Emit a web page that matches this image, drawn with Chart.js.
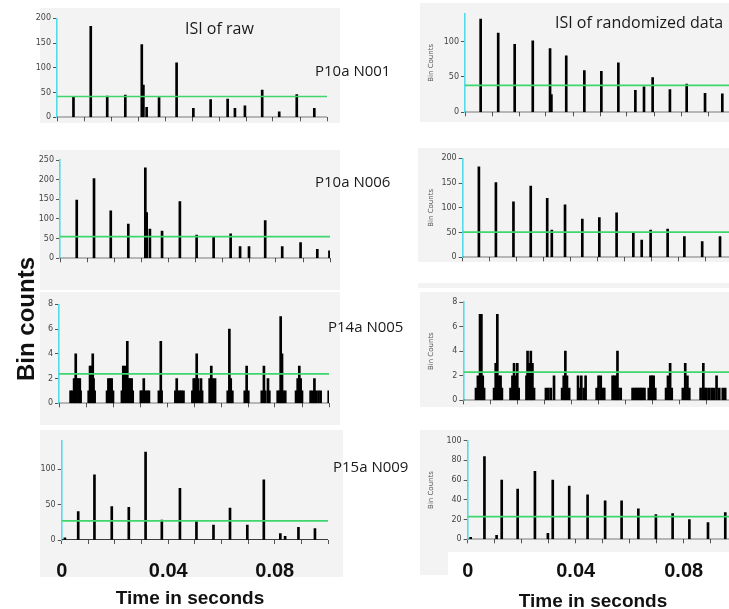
<!DOCTYPE html>
<html><head><meta charset="utf-8">
<script src="https://cdn.jsdelivr.net/npm/chart.js@4/dist/chart.umd.min.js"></script>
<style>
html,body{margin:0;padding:0;background:#fff;}
#root{position:relative;width:729px;height:609px;overflow:hidden;}
.box{position:absolute;background:#f3f3f3;}
.cv{position:absolute;}
.lbl{position:absolute;font-family:"Open Sans",sans-serif;color:#1a1a1a;white-space:nowrap;line-height:1;font-size:15px;}
.big{position:absolute;font-family:"Liberation Sans",Arial,sans-serif;font-weight:bold;color:#111;white-space:nowrap;line-height:1;transform:translate(-50%,-50%);}
</style></head><body><div id="root"></div>
<script>
// ---------- data (spike times in seconds, bin counts) ----------
const p1Times  = [0.0061,0.0125,0.0186,0.0253,0.0314,0.0320,0.0332,0.0378,0.0443,0.0505,0.0569,0.0632,0.0659,0.0696,0.0760,0.0823,0.0888,0.0953];
const p1Counts = [42,184,43,45,147,65,20,40,110,18,36,37,18,23,55,11,46,18];
const p1Mean = 42;

const p2Times  = [0.0058,0.0123,0.0184,0.0251,0.0315,0.0320,0.0375,0.0442,0.0505,0.0568,0.0631,0.0663,0.0695,0.0759,0.0821,0.0889,0.0953];
const p2Counts = [132,112,96,101,90,25,80,59,58,70,31,36,49,32,40,27,26];
const p2Mean = 38;

const p3Times  = [0.0062,0.0126,0.0188,0.0253,0.0316,0.0321,0.0333,0.0378,0.0444,0.0506,0.0569,0.0632,0.0667,0.0700,0.0760,0.0823,0.0891,0.0953,0.0998];
const p3Counts = [148,203,121,87,230,116,74,69,144,59,55,62,30,30,96,30,40,23,19];
const p3Mean = 55;

const p4Times  = [0.0060,0.0123,0.0188,0.0252,0.0313,0.0330,0.0379,0.0443,0.0506,0.0570,0.0632,0.0663,0.0696,0.0759,0.0821,0.0887,0.0953];
const p4Counts = [183,151,112,144,119,55,106,77,80,90,50,35,55,57,42,32,42];
const p4Mean = 51;

const p5Times  = [0.0043,0.0049,0.0056,0.0062,0.0065,0.0072,0.0077,0.0080,
  0.0110,0.0115,0.0120,0.0125,0.0128,0.0132,
  0.0178,0.0183,0.0189,0.0195,0.0200,
  0.0233,0.0238,0.0244,0.0253,0.0258,0.0263,0.0269,0.0273,
  0.0303,0.0307,0.0314,0.0320,0.0327,0.0333,
  0.0370,0.0377,0.0380,
  0.0431,0.0436,0.0442,0.0448,0.0454,0.0461,
  0.0494,0.0499,0.0505,0.0510,0.0515,0.0521,0.0526,0.0530,
  0.0558,0.0564,0.0570,0.0578,
  0.0625,0.0631,0.0636,0.0642,
  0.0688,0.0695,0.0701,
  0.0751,0.0759,0.0764,0.0774,0.0779,
  0.0810,0.0816,0.0821,0.0826,0.0831,0.0838,
  0.0878,0.0884,0.0890,0.0895,0.0900,
  0.0932,0.0940,0.0946,0.0952,0.0961,0.0969,0.0999];
const p5Counts = [1,1,2,4,2,2,2,1,
  1,3,3,4,2,1,
  1,2,2,2,1,
  1,3,3,5,2,2,2,1,
  1,1,2,1,1,1,
  1,5,1,
  1,2,1,1,1,1,
  1,2,2,4,2,1,2,1,
  2,3,2,2,
  1,6,2,1,
  1,3,1,
  1,3,1,2,1,
  1,1,7,4,1,1,
  1,2,3,2,1,
  1,1,2,1,1,1,1];
const p5Mean = 2.37;

const p6Times  = [0.0047,0.0054,0.0062,0.0067,0.0072,0.0077,
  0.0114,0.0120,0.0126,0.0132,0.0138,0.0143,
  0.0175,0.0182,0.0188,0.0194,0.0200,0.0205,
  0.0234,0.0238,0.0245,0.0250,0.0256,0.0262,
  0.0306,0.0315,0.0324,0.0336,
  0.0366,0.0372,0.0378,0.0384,0.0392,
  0.0425,0.0431,0.0437,0.0446,0.0453,
  0.0494,0.0501,0.0509,0.0516,0.0522,
  0.0553,0.0559,0.0566,0.0571,0.0575,0.0583,
  0.0627,0.0634,0.0640,0.0646,0.0652,0.0658,0.0664,0.0671,
  0.0687,0.0693,0.0699,0.0705,0.0711,
  0.0751,0.0758,0.0766,0.0772,
  0.0813,0.0822,0.0830,0.0837,
  0.0879,0.0889,0.0895,0.0901,
  0.0911,0.0920,0.0929,0.0938,0.0948,0.0961,0.0970];
const p6Counts = [1,2,7,7,2,1,
  1,3,7,2,2,1,
  1,2,3,2,3,1,
  2,4,3,4,3,1,
  1,1,1,2,
  1,2,4,2,1,
  2,1,2,1,2,
  1,2,2,1,1,
  2,2,2,4,1,1,
  1,1,1,1,1,1,1,1,
  1,2,2,2,1,
  1,2,3,1,
  1,3,2,1,
  1,3,1,1,
  1,1,1,2,1,1,1];
const p6Mean = 2.3;

const p7Times  = [0.0012,0.0062,0.0123,0.0188,0.0252,0.0315,0.0376,0.0444,0.0506,0.0570,0.0632,0.0697,0.0759,0.0821,0.0839,0.0889,0.0951];
const p7Counts = [3,40,92,47,46,124,28,73,26,21,45,21,85,9,5,18,16];
const p7Mean = 27;

const p8Times  = [0.0011,0.0062,0.0107,0.0126,0.0185,0.0249,0.0297,0.0315,0.0376,0.0444,0.0509,0.0570,0.0632,0.0697,0.0759,0.0821,0.0890,0.0954];
const p8Counts = [2,84,4,60,51,69,6,60,54,45,39,39,31,25,26,20,17,27];
const p8Mean = 23;

const xTickLabels = ['0','0.04','0.08'];
const yTitle = 'Bin Counts';

// ---------- layout ----------
const root = document.getElementById('root');
const PX_PER_SEC = 2700;

const boxes = [
  [40,8,300,115],[420,3,309,119],
  [40,150,300,140],[418,148,311,114],[418,283,311,5],
  [40,292,300,133],[420,292,309,115],
  [40,430,303,147],[420,430,309,122],[420,552,28,23]
];
boxes.forEach(b=>{const d=document.createElement('div');d.className='box';
  d.style.left=b[0]+'px';d.style.top=b[1]+'px';d.style.width=b[2]+'px';d.style.height=b[3]+'px';root.appendChild(d);});

function addText(cls, txt, x, y, size, extra){
  const d=document.createElement('div');d.className=cls;d.textContent=txt;
  d.style.left=x+'px';d.style.top=y+'px';if(size)d.style.fontSize=size+'px';
  if(extra)Object.assign(d.style,extra);root.appendChild(d);return d;
}

const panels = [
  {t:p1Times,c:p1Counts,m:p1Mean,ymax:200,step:50,cv:[28,6,312,120],pl:[57,18.3,327,117.3],title:false,bottom:false},
  {t:p2Times,c:p2Counts,m:p2Mean,ymax:140,step:50,cv:[420,2,309,120],pl:[465,13.3,729,112.3],title:true,bottom:false},
  {t:p3Times,c:p3Counts,m:p3Mean,ymax:250,step:50,cv:[28,150,312,118],pl:[60,160,330,258.3],title:false,bottom:false},
  {t:p4Times,c:p4Counts,m:p4Mean,ymax:200,step:50,cv:[420,148,309,118],pl:[462.7,158.3,729,257.3],title:true,bottom:false},
  {t:p5Times,c:p5Counts,m:p5Mean,ymax:8,step:2,cv:[28,292,312,120],pl:[59,304.3,329,403.3],title:false,bottom:false},
  {t:p6Times,c:p6Counts,m:p6Mean,ymax:8,step:2,cv:[420,290,309,118],pl:[463.3,302,729,400.3],title:true,bottom:false},
  {t:p7Times,c:p7Counts,m:p7Mean,ymax:140,step:50,cv:[28,430,315,160],pl:[61.7,440.7,331.7,540],title:false,bottom:true,lblY:571},
  {t:p8Times,c:p8Counts,m:p8Mean,ymax:100,step:20,cv:[420,430,309,160],pl:[467.7,440.7,729,539.3],title:true,bottom:true,lblY:571.7}
];

panels.forEach(p=>{
  const [cl,ct,cw,ch]=p.cv; const [pL,pT,pR,pB]=p.pl;
  const cvs=document.createElement('canvas');cvs.className='cv';
  cvs.width=cw;cvs.height=ch;cvs.style.left=cl+'px';cvs.style.top=ct+'px';
  cvs.style.width=cw+'px';cvs.style.height=ch+'px';root.appendChild(cvs);
  const xMax=(pR-pL)/PX_PER_SEC;
  const yW=pL-cl, padTop=pT-ct, padRight=(cl+cw)-pR, xH=(ct+ch)-pB;
  const spikes=p.t.map((t,i)=>({x:t,y:p.c[i]}));
  new Chart(cvs,{
    type:'bar',
    data:{datasets:[
      {type:'line',data:[{x:0,y:p.m},{x:xMax,y:p.m}],borderColor:'#3fd66e',borderWidth:1.7,pointRadius:0,order:0},
      {type:'bar',data:spikes,backgroundColor:'#000',borderWidth:0,barThickness:2,grouped:false,order:1},
      {type:'line',data:[{x:0,y:0},{x:xMax,y:0}],borderColor:'#000',borderWidth:1.3,pointRadius:0,order:2}
    ]},
    options:{
      responsive:false,animation:false,devicePixelRatio:1,
      layout:{padding:{top:padTop,right:padRight,left:0,bottom:0}},
      plugins:{legend:{display:false},tooltip:{enabled:false}},
      scales:{
        x:{type:'linear',min:0,max:xMax,offset:false,
          grid:{display:true,offset:false,drawOnChartArea:false,drawTicks:true,tickLength:4,color:'#555',lineWidth:1},
          border:{display:false},
          ticks:{stepSize:0.01,includeBounds:false,autoSkip:false,maxRotation:0,minRotation:0,
            display:p.bottom,padding:p.bottom?(p.lblY-pB-16):0,color:'#111',
            font:{family:'"Liberation Sans", Arial, sans-serif',size:20,weight:'bold'},
            callback:v=>{const k=Math.round(v*100);return k===0?xTickLabels[0]:k===4?xTickLabels[1]:k===8?xTickLabels[2]:'';}},
          afterFit:s=>{s.height=xH;}
        },
        y:{type:'linear',min:0,max:p.ymax,
          grid:{display:true,drawOnChartArea:false,drawTicks:true,tickLength:4,color:'#555'},
          border:{display:true,color:'#52dbe8',width:1.6},
          ticks:{stepSize:p.step,includeBounds:false,color:'#444',padding:2,
            font:{family:'"DejaVu Sans", sans-serif',size:8}},
          title:{display:p.title,text:yTitle,color:'#555',padding:{top:7,bottom:0},
            font:{family:'"DejaVu Sans", sans-serif',size:7}},
          afterFit:s=>{s.width=yW;}
        }
      }
    }
  });
});

// ---------- texts ----------
addText('lbl','ISI of raw',185,19.5,16);
addText('lbl','ISI of randomized data',555,13.5,16);
addText('lbl','P10a N001',315,62.5,15);
addText('lbl','P10a N006',315,173.5,15);
addText('lbl','P14a N005',328,318.5,15);
addText('lbl','P15a N009',333,458.5,15);
addText('big','Bin counts',26,319,24,{transform:'translate(-50%,-50%) rotate(-90deg)'});
addText('big','Time in seconds',190,597,19);
addText('big','Time in seconds',593,600,19);
</script>
</body></html>
